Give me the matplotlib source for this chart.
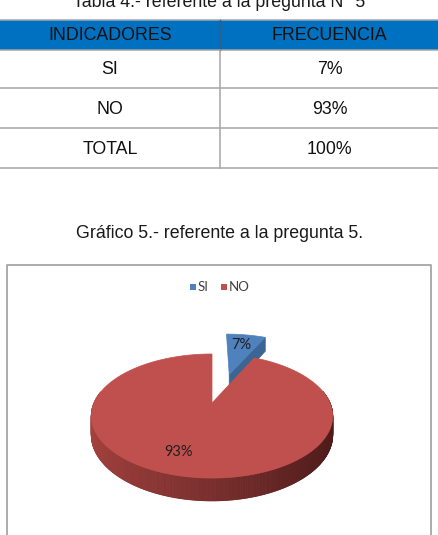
import numpy as np
import matplotlib
matplotlib.use("Agg")
import matplotlib.pyplot as plt
from matplotlib.patches import Polygon, Rectangle
from matplotlib.collections import PolyCollection
from matplotlib.colors import to_rgb

# Data
TABLE_TITLE = "Tabla 4.- referente a la pregunta N° 5"
CHART_TITLE = "Gráfico 5.- referente a la pregunta 5."
TABLE_HEADERS = ["INDICADORES", "FRECUENCIA"]
ROW_LABELS = ["SI", "NO", "TOTAL"]
ROW_VALUES = ["7%", "93%", "100%"]
CATEGORIES = ["SI", "NO"]
PERCENTS = [7, 93]
EXPLODE = [0.55, 0.0]

# Styles
TOP_COLORS = ["#4F81BD", "#C0504D"]
CUT_COLORS = ["#3B6592", "#8E3A38"]
SIDE_LIGHT = "#A5423F"
SIDE_DARK = "#4A1A19"
HEADER_BG = "#0070C0"
GRID_GRAY = "#A6A6A6"
TABLE_FONT = "Liberation Sans"
CHART_FONT = "Lato"

# Pie geometry (pixels, y down)
CX, CY = 212, 403
RX, RY = 118, 59.3
DEPTH = 18
PERSP = 0.21
EXPLODE_SHIFT_X = 5  # extra sideways push of the exploded slice
LABEL_R = 0.7
LABEL_NUDGE = [(0, 0), (-12, 2)]

W, H = 439, 535
fig = plt.figure(figsize=(W / 100, H / 100), dpi=100)
ax = fig.add_axes([0, 0, 1, 1])
ax.set_xlim(0, W)
ax.set_ylim(H, 0)
ax.axis("off")


def proj(u, v, z=0.0):
    s = 1.0 / (1.0 + PERSP * v)
    return CX + RX * u * s, CY - (RY * v + DEPTH * z) * s


# ---- table ----
ax.text(W / 2, 7, TABLE_TITLE, ha="center", va="baseline", fontsize=12.8,
        family=TABLE_FONT, color="#1a1a1a")
row_edges = [20, 50, 88, 128, 168]
col_x = [0, 220, W]
ax.add_patch(Rectangle((0, row_edges[0]), W, row_edges[1] - row_edges[0],
                       facecolor=HEADER_BG, edgecolor="none"))
for y in row_edges:
    ax.plot([0, W], [y, y], color=GRID_GRAY, lw=1.1)
ax.plot([col_x[1], col_x[1]], [row_edges[0], row_edges[1]], color="#2f5f8f", lw=1.0)
ax.plot([col_x[1], col_x[1]], [row_edges[1], row_edges[-1]], color=GRID_GRAY, lw=1.1)
cells = [TABLE_HEADERS] + [[a, b] for a, b in zip(ROW_LABELS, ROW_VALUES)]
for i, row in enumerate(cells):
    yc = (row_edges[i] + row_edges[i + 1]) / 2 + 1
    for j, txt in enumerate(row):
        xc = (col_x[j] + col_x[j + 1]) / 2
        ax.text(xc, yc, txt, ha="center", va="center", fontsize=12.8,
                family=TABLE_FONT, color="#111111")

# ---- chart caption and frame ----
ax.text(W / 2, 238, CHART_TITLE, ha="center", va="baseline", fontsize=12.8,
        family=TABLE_FONT, color="#1a1a1a")
ax.plot([7, 7, 431, 431], [H + 5, 265, 265, H + 5], color=GRID_GRAY, lw=1.3)

# legend
lx = 190
for cat, col in zip(CATEGORIES, TOP_COLORS):
    ax.add_patch(Rectangle((lx, 283.5), 6, 6, facecolor=col, edgecolor="none"))
    ax.text(lx + 8, 287, cat, ha="left", va="center", fontsize=9.5,
            family=CHART_FONT, color="#404040")
    lx += 31

# ---- 3D pie ----
total = float(sum(PERCENTS))
starts = np.cumsum([0] + PERCENTS[:-1]) / total * 360.0
spans = np.array(PERCENTS) / total * 360.0

side_light = np.array(to_rgb(SIDE_LIGHT))
side_dark = np.array(to_rgb(SIDE_DARK))

for k in range(len(PERCENTS)):
    a0 = np.radians(starts[k])
    a1 = np.radians(starts[k] + spans[k])
    mid = (a0 + a1) / 2
    eu, ev = EXPLODE[k] * np.sin(mid), EXPLODE[k] * np.cos(mid)
    if EXPLODE[k] > 0:
        eu += EXPLODE_SHIFT_X / RX
    angs = np.linspace(a0, a1, max(int(spans[k] * 2), 8))

    # outer side (front part only)
    quads, cols = [], []
    for b0, b1 in zip(angs[:-1], angs[1:]):
        bm = (b0 + b1) / 2
        if np.cos(bm) > 0.2:
            continue
        p = [proj(eu + np.sin(b0), ev + np.cos(b0), 0),
             proj(eu + np.sin(b1), ev + np.cos(b1), 0),
             proj(eu + np.sin(b1), ev + np.cos(b1), -1),
             proj(eu + np.sin(b0), ev + np.cos(b0), -1)]
        t = np.clip((np.sin(bm) + 1) / 2, 0, 1)
        c = side_light * (1 - t) + side_dark * t
        quads.append(p)
        cols.append(c)
    if quads:
        ax.add_collection(PolyCollection(quads, facecolors=cols, edgecolors=cols,
                                         linewidths=0.6))

    # cut face at the end edge (faces the viewer for the exploded slice)
    if EXPLODE[k] > 0:
        face = [proj(eu, ev, 0), proj(eu + np.sin(a1), ev + np.cos(a1), 0),
                proj(eu + np.sin(a1), ev + np.cos(a1), -1), proj(eu, ev, -1)]
        ax.add_patch(Polygon(face, closed=True, facecolor=CUT_COLORS[k],
                             edgecolor=CUT_COLORS[k], lw=0.5))

    # top face
    top = [proj(eu, ev, 0)] + [proj(eu + np.sin(a), ev + np.cos(a), 0) for a in angs]
    ax.add_patch(Polygon(top, closed=True, facecolor=TOP_COLORS[k],
                         edgecolor=TOP_COLORS[k], lw=0.5))

    # label
    lx_, ly_ = proj(eu + LABEL_R * np.sin(mid), ev + LABEL_R * np.cos(mid), 0)
    ax.text(lx_ + LABEL_NUDGE[k][0], ly_ + LABEL_NUDGE[k][1], f"{PERCENTS[k]}%",
            ha="center", va="center", fontsize=10.5, family=CHART_FONT,
            color="#1f1f1f")

fig.savefig("out.png", dpi=100)
